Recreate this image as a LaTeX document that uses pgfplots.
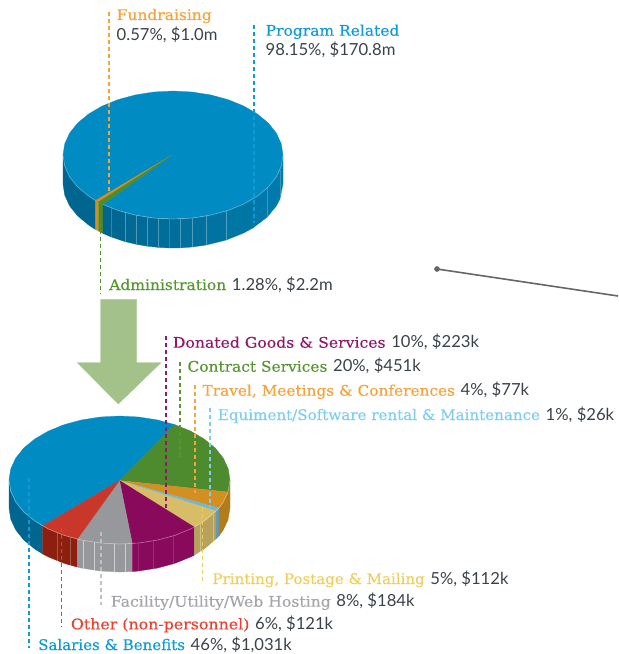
\documentclass[border=0pt]{standalone}
\usepackage{fontspec}
\usepackage{graphicx}
\usepackage{pgfplots}
\pgfplotsset{compat=1.18}
\newfontfamily\slab[FakeStretch=1.08,FakeBold=0.4]{DejaVu Serif}
\newfontfamily\val{Lato}

\definecolor{pblue}{RGB}{0,140,195}
\definecolor{sideL}{RGB}{0,101,143}
\definecolor{sideR}{RGB}{0,124,174}
\definecolor{pgreen}{RGB}{78,139,46}
\definecolor{porange}{RGB}{210,143,34}
\definecolor{plight}{RGB}{111,184,216}
\definecolor{pyellow}{RGB}{215,189,103}
\definecolor{ppurple}{RGB}{137,10,92}
\definecolor{pgray}{RGB}{151,152,156}
\definecolor{pred}{RGB}{201,55,42}
\definecolor{sred}{RGB}{140,31,16}
\definecolor{syellow}{RGB}{183,162,92}
\definecolor{slight}{RGB}{98,153,181}
\definecolor{sorange}{RGB}{178,124,28}
\definecolor{sgreen}{RGB}{83,135,40}
\definecolor{torange}{RGB}{245,163,60}
\definecolor{tblue}{RGB}{15,155,215}
\definecolor{tgreen}{RGB}{88,150,50}
\definecolor{tpurple}{RGB}{142,27,106}
\definecolor{tlight}{RGB}{127,205,242}
\definecolor{tyellow}{RGB}{239,207,90}
\definecolor{tgray}{RGB}{165,166,169}
\definecolor{tred}{RGB}{232,65,47}
\definecolor{tval}{RGB}{58,66,74}
\definecolor{arrowc}{RGB}{163,194,137}

% filled polygon, outline in same colour to hide seams
\newcommand{\face}[2]{\addplot[fill=#1,draw=#1,line width=0.25pt] coordinates {#2} -- cycle;}
\newcommand{\sep}[2]{\addplot[#1,line width=0.6pt] coordinates {#2};}
\newcommand{\lead}[2]{\addplot[#1,line width=1.5pt,dash pattern=on 4bp off 3bp] coordinates {#2};}
% x, baseline, colour, horizontal fit of the name, name, value
\newcommand{\lab}[6]{\node[anchor=base west,inner sep=0pt] at (axis cs:#1,#2) {\scalebox{#4}[1]{\fontsize{14.7}{17}\selectfont\color{#3}\slab #5}\hspace{5.7bp}\fontsize{16.7}{17}\selectfont\color{tval}\val #6};}

\begin{document}
\begin{tikzpicture}
\begin{axis}[
    hide axis, scale only axis, clip=false,
    width=618bp, height=654bp,
    xmin=0, xmax=618, ymin=0, ymax=654,
    y dir=reverse,
]
\path (axis cs:0,0) rectangle (axis cs:618,654);
% top pie, side
\face{sideL}{(63,155)(64.7,166.1)(69.6,176.9)(77.7,187)(88.7,196.1)(95.5,200.5)(95.5,229.5)(88.7,225.1)(77.7,216)(69.6,205.9)(64.7,195.1)(63,184)}
\face{porange}{(95.5,200.5)(98.5,202.1)(98.5,231.1)(95.5,229.5)}
\face{sgreen}{(98.5,202.1)(103,204.4)(103,233.4)(98.5,231.1)}
\face{sideR!4!sideL}{(103,204.4)(111,207.9)(111,236.9)(103,233.4)}
\face{sideR!10!sideL}{(111,207.9)(125.3,212.7)(125.3,241.7)(111,236.9)}
\face{sideR!16!sideL}{(125.3,212.7)(136.3,215.3)(136.3,244.3)(125.3,241.7)}
\face{sideR!22!sideL}{(136.3,215.3)(147.3,217.2)(147.3,246.2)(136.3,244.3)}
\face{sideR!28!sideL}{(147.3,217.2)(158.3,218.4)(158.3,247.4)(147.3,246.2)}
\face{sideR!34!sideL}{(158.3,218.4)(169.3,219)(169.3,248)(158.3,247.4)}
\face{sideR!40!sideL}{(169.3,219)(180.3,218.9)(180.3,247.9)(169.3,248)}
\face{sideR!46!sideL}{(180.3,218.9)(192.3,218)(192.3,247)(180.3,247.9)}
\face{sideR!52!sideL}{(192.3,218)(206.3,216)(206.3,245)(192.3,247)}
\face{sideR!60!sideL}{(206.3,216)(226.3,211)(226.3,240)(206.3,245)}
\face{sideR!72!sideL}{(226.3,211)(243.7,204)(253,198.9)(253,227.9)(243.7,233)(226.3,240)}
\face{sideR!84!sideL}{(253,198.9)(267.3,188)(267.3,217)(253,227.9)}
\face{sideR!92!sideL}{(267.3,188)(276.4,176.9)(280,169.8)(280,198.8)(276.4,205.9)(267.3,217)}
\face{sideR}{(280,169.8)(283,155)(283,184)(280,198.8)}
% facet lines
\sep{white,opacity=0.2}{(111,207.9)(111,236.9)}
\sep{white,opacity=0.25}{(125.3,212.7)(125.3,241.7)}
\sep{white,opacity=0.25}{(136.3,215.3)(136.3,244.3)}
\sep{white,opacity=0.25}{(147.3,217.2)(147.3,246.2)}
\sep{white,opacity=0.25}{(158.3,218.4)(158.3,247.4)}
\sep{white,opacity=0.08}{(169.3,219)(169.3,248)}
\sep{white,opacity=0.25}{(180.3,218.9)(180.3,247.9)}
\sep{white,opacity=0.25}{(192.3,218)(192.3,247)}
\sep{white,opacity=0.25}{(206.3,216)(206.3,245)}
\sep{white,opacity=0.25}{(226.3,211)(226.3,240)}
\sep{white,opacity=0.15}{(267.3,188)(267.3,217)}
\sep{white,opacity=0.2}{(280,169.8)(280,198.8)}
% top pie, top face
\face{pblue}{(283,155)(281.3,166.1)(276.4,176.9)(268.3,187)(257.3,196.1)(243.7,204)(228,210.4)(210.6,215.1)(192.1,218)(173,219)(153.9,218)(135.4,215.1)(118,210.4)(103,204.4)(172,155)(98.5,202.1)(95.5,200.5)(88.7,196.1)(77.7,187)(69.6,176.9)(64.7,166.1)(63,155)(64.7,143.9)(69.6,133.1)(77.7,123)(88.7,113.9)(102.3,106)(118,99.6)(135.4,94.9)(153.9,92)(173,91)(192.1,92)(210.6,94.9)(228,99.6)(243.7,106)(257.3,113.9)(268.3,123)(276.4,133.1)(281.3,143.9)}
\face{porange}{(172,155)(95.5,200.5)(98.5,202.1)}
\face{pgreen}{(172,155)(98.5,202.1)(103,204.4)}
\sep{white,opacity=0.35}{(283,155)(281.3,166.1)(276.4,176.9)(268.3,187)(257.3,196.1)(243.7,204)(228,210.4)(210.6,215.1)(192.1,218)(173,219)(153.9,218)(135.4,215.1)(118,210.4)(103,204.4)}
\sep{white,opacity=0.35}{(95.5,200.5)(88.7,196.1)(77.7,187)(69.6,176.9)(64.7,166.1)(63,155)}

% arrow
\face{arrowc}{(100.7,299.3)(136.7,299.3)(136.7,362.7)(161,362.7)(118.3,404)(77.3,362.7)(100.7,362.7)}

% bottom pie, side
\face{sideL}{(9,480)(10.7,491.1)(15.7,501.9)(23.8,512)(34.9,521.1)(42.7,526)(42.7,554)(34.9,549.1)(23.8,540)(15.7,529.9)(10.7,519.1)(9,508)}
\face{sred}{(42.7,526)(48.5,529)(64.25,535.4)(77.3,539.1)(77.3,567.1)(64.25,563.4)(48.5,557)(42.7,554)}
\face{pgray}{(77.3,539.1)(81.7,540.1)(100.3,543)(119.5,544)(132.3,543.6)(132.3,571.6)(119.5,572)(100.3,571)(81.7,568.1)(77.3,567.1)}
\face{ppurple}{(132.3,543.6)(138.7,543)(157.3,540.1)(174.75,535.4)(190.5,529)(194.3,527.1)(194.3,555.1)(190.5,557)(174.75,563.4)(157.3,568.1)(138.7,571)(132.3,571.6)}
\face{syellow}{(194.3,527.1)(204.1,521.1)(216,511)(216,539)(204.1,549.1)(194.3,555.1)}
\face{slight}{(216,511)(219,508)(219,536)(216,539)}
\face{sorange}{(219,508)(223.3,501.9)(228,492)(230,480)(230,508)(228,520)(223.3,529.9)(219,536)}
\sep{white,opacity=0.25}{(57.3,532.9)(57.3,560.9)}
\sep{white,opacity=0.25}{(70,537.2)(70,565.2)}
\sep{white,opacity=0.55}{(83.3,540.5)(83.3,568.5)}
\sep{white,opacity=0.55}{(94.3,542.3)(94.3,570.3)}
\sep{white,opacity=0.55}{(114,543.9)(114,571.9)}
\sep{white,opacity=0.55}{(125.7,543.9)(125.7,571.9)}
\sep{white,opacity=0.12}{(138.3,543.1)(138.3,571.1)}
\sep{white,opacity=0.15}{(153.3,540.9)(153.3,568.9)}
\sep{white,opacity=0.15}{(173.3,535.9)(173.3,563.9)}
\sep{white,opacity=0.3}{(200,523.8)(200,551.8)}
\sep{white,opacity=0.3}{(213,514.1)(213,542.1)}
% bottom pie, top face
\face{pblue}{(119.5,480.5)(42.7,526)(34.9,521.1)(23.8,512)(15.7,501.9)(10.7,491.1)(9,480)(10.7,468.9)(15.7,458.1)(23.8,448)(34.9,438.9)(48.5,431)(64.25,424.6)(81.7,419.9)(100.3,417)(119.5,416)(138.7,417)(157.3,419.9)(174.75,424.6)}
\face{pgreen}{(119.5,480.5)(174.75,424.6)(190.5,431)(204.1,438.9)(215.2,448)(223.3,458.1)(228.3,468.9)(230,480)(228,492)}
\face{porange}{(119.5,480.5)(228,492)(223.3,501.9)(219,508)}
\face{plight}{(119.5,480.5)(219,508)(216,511)}
\face{pyellow}{(119.5,480.5)(216,511)(204.1,521.1)(194.3,527.1)}
\face{ppurple}{(119.5,480.5)(194.3,527.1)(190.5,529)(174.75,535.4)(157.3,540.1)(138.7,543)(132.3,543.6)}
\face{pgray}{(119.5,480.5)(132.3,543.6)(119.5,544)(100.3,543)(81.7,540.1)(77.3,539.1)}
\face{pred}{(119.5,480.5)(77.3,539.1)(64.25,535.4)(48.5,529)(42.7,526)}
\sep{white,opacity=0.4}{(230,480)(228,492)(223.3,501.9)(219,508)(216,511)(204.1,521.1)(194.3,527.1)(190.5,529)(174.75,535.4)(157.3,540.1)(138.7,543)(119.5,544)(100.3,543)(81.7,540.1)(64.25,535.4)(48.5,529)(34.9,521.1)(23.8,512)(15.7,501.9)(10.7,491.1)(9,480)}

% leader lines
\lead{torange}{(109,12)(109,193)}
\lead{tblue}{(254,25)(254,223)}
\lead{tgreen}{(100.5,223)(100.5,294)}
\lead{tpurple}{(166,336)(166,508)}
\lead{tgreen}{(180,362)(180,460)}
\lead{torange}{(195,385)(195,493)}
\lead{tlight}{(210,408)(210,507)}
\lead{tyellow}{(202.3,507)(202.3,583)}
\lead{tgray!70}{(101,532)(101,605)}
\lead{tred}{(61.5,528)(61.5,627)}
\lead{tblue}{(29,478)(29,648)}

% grey pointer
\addplot[color=black!60,line width=1.6pt] coordinates {(437,269)(618,296)};
\addplot[only marks,mark=*,mark size=2.6pt,color=black!60] coordinates {(437,269)};

% labels
\node[anchor=base west,inner sep=0pt] at (axis cs:116.5,20) {\scalebox{0.98}[1]{\fontsize{14.7}{17}\selectfont\color{torange}\slab Fundraising}};
\node[anchor=base west,inner sep=0pt] at (axis cs:116.5,41) {\fontsize{16.7}{17}\selectfont\color{tval}\val 0.57\%, \$1.0m};
\node[anchor=base west,inner sep=0pt] at (axis cs:265.5,35.7) {\scalebox{0.98}[1]{\fontsize{14.7}{17}\selectfont\color{tblue}\slab Program Related}};
\node[anchor=base west,inner sep=0pt] at (axis cs:265.5,56) {\fontsize{16.7}{17}\selectfont\color{tval}\val 98.15\%, \$170.8m};
\lab{109}{290}{tgreen}{0.98}{Administration}{1.28\%, \$2.2m}
\lab{172.7}{347.7}{tpurple}{0.99}{Donated Goods \& Services}{10\%, \$223k}
\lab{187.3}{371.7}{tgreen}{0.975}{Contract Services}{20\%, \$451k}
\lab{202.3}{395.7}{torange}{0.97}{Travel, Meetings \& Conferences}{4\%, \$77k}
\lab{217.7}{420}{tlight}{0.955}{Equiment/Software rental \& Maintenance}{1\%, \$26k}
\lab{212.3}{584}{tyellow}{0.95}{Printing, Postage \& Mailing}{5\%, \$112k}
\lab{110.7}{606.7}{tgray}{0.99}{Facility/Utility/Web Hosting}{8\%, \$184k}
\lab{70.7}{629.3}{tred}{1}{Other (non-personnel)}{6\%, \$121k}
\lab{38}{650}{tblue}{0.95}{Salaries \& Benefits}{46\%, \$1,031k}
\end{axis}
\end{tikzpicture}
\end{document}
